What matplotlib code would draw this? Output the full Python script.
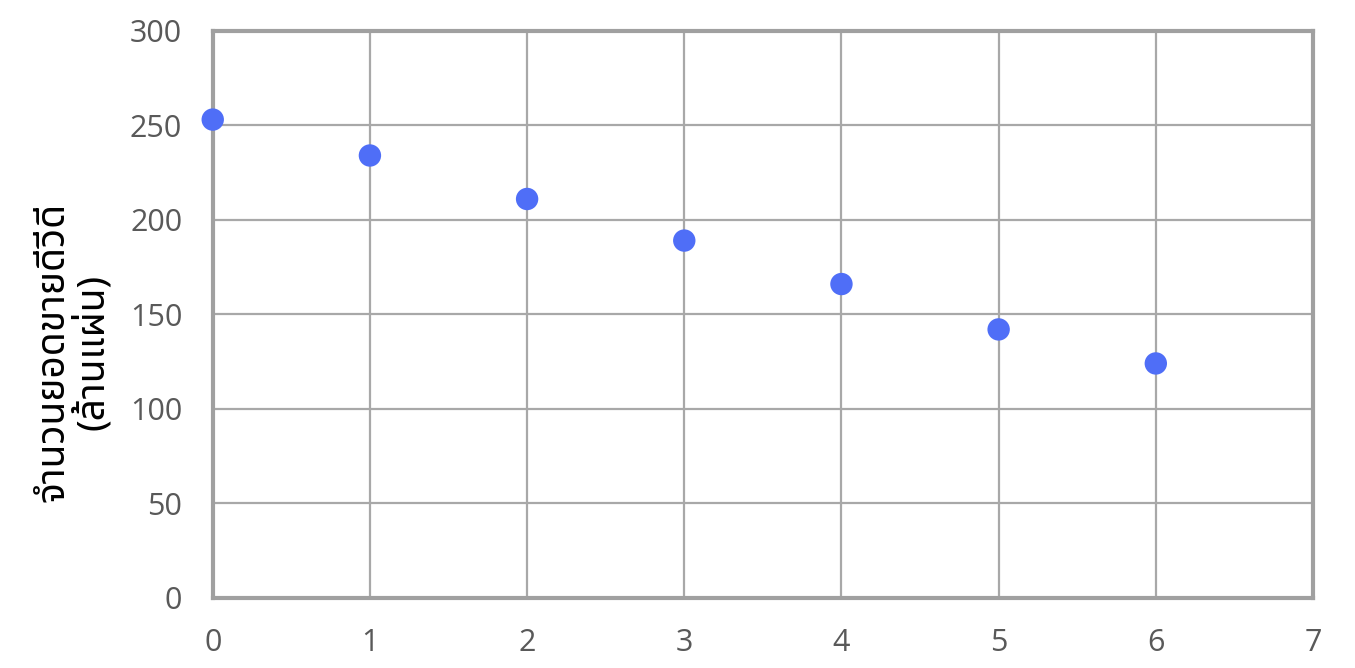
import matplotlib
matplotlib.use('Agg')
import matplotlib.pyplot as plt

# data
years = [0, 1, 2, 3, 4, 5, 6]
sales = [253, 234, 211, 189, 166, 142, 124]

plt.rcParams['font.family'] = ['Noto Sans Thai', 'Loma', 'Garuda', 'Open Sans', 'DejaVu Sans']

fig = plt.figure(figsize=(13.55, 6.68), dpi=100)
ax = fig.add_axes([0.157, 0.105, 0.812, 0.849])

ax.scatter(years, sales, s=260, color='#4f6ef7', zorder=3, clip_on=False, edgecolors='none')

ax.set_xlim(0, 7)
ax.set_ylim(0, 300)
ax.set_xticks(range(0, 8))
ax.set_yticks(range(0, 301, 50))
ax.grid(True, color='#a8a8a8', linewidth=1.6)
ax.set_axisbelow(True)

for s in ax.spines.values():
    s.set_color('#a0a0a0')
    s.set_linewidth(3)

ax.tick_params(length=0, labelsize=22, labelcolor='#595959')
for lab in ax.get_xticklabels() + ax.get_yticklabels():
    lab.set_family(['Open Sans', 'DejaVu Sans'])
ax.tick_params(axis='x', pad=22)
ax.tick_params(axis='y', pad=22)

ax.set_ylabel('จำนวนยอดขายดีวีดี\n(ล้านแผ่น)', fontsize=28, color='black', linespacing=1.0)
ax.yaxis.set_label_coords(-0.092, 0.434)

fig.savefig('out.png', dpi=100)
